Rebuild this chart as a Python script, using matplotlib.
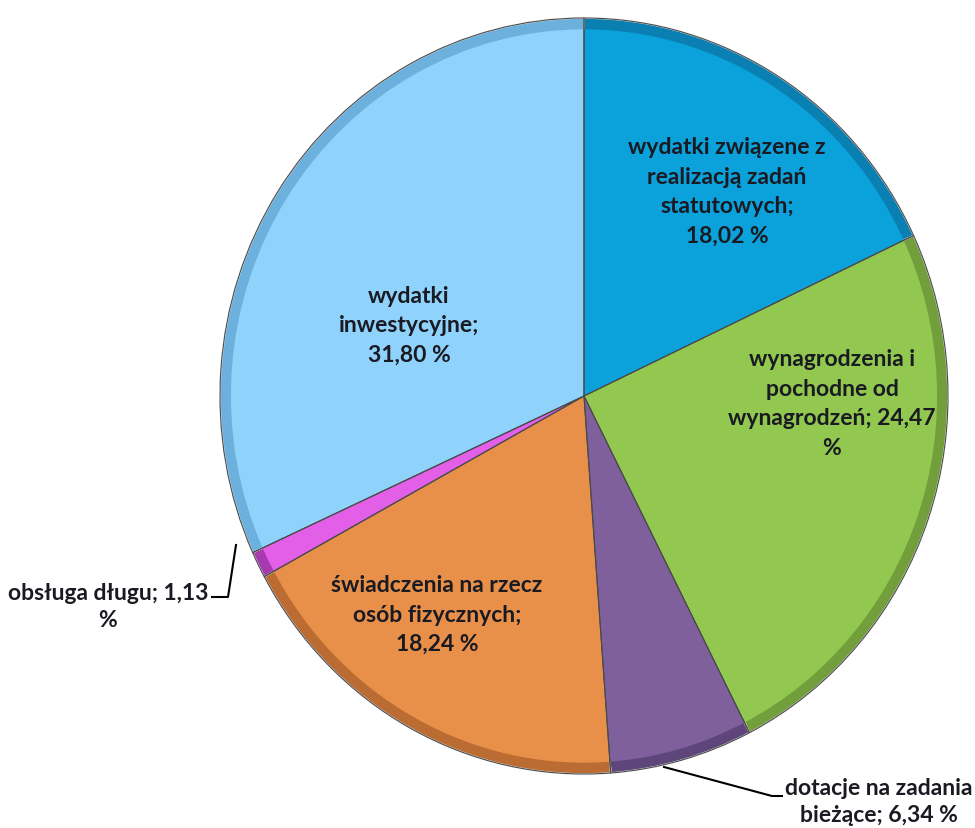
import matplotlib.pyplot as plt
import numpy as np

# slice data, clockwise from 12 o'clock
labels = [
    "wydatki związene z\nrealizacją zadań\nstatutowych;\n18,02 %",
    "wynagrodzenia i\npochodne od\nwynagrodzeń; 24,47\n%",
    "dotacje na zadania\nbieżące; 6,34 %",
    "świadczenia na rzecz\nosób fizycznych;\n18,24 %",
    "obsługa długu; 1,13\n%",
    "wydatki\ninwestycyjne;\n31,80 %",
]
values = [18.02, 24.47, 6.34, 18.24, 1.13, 31.80]
colors = ["#0ba2dc", "#92c84f", "#7f609c", "#e8904a", "#e45fe8", "#8fd2fb"]
rims = ["#0a80b2", "#729f3c", "#5f467a", "#bb6c32", "#a83ab0", "#6cb0de"]

# label anchor points in pixels (x, y from top)
label_pos = [(727, 192), (832, 404), (879, 802), (437, 615), (108, 607), (409, 326)]

W, H = 975, 829
cx, cy = 584, 397
rx, ry = 364, 378

plt.rcParams['font.family'] = ['Lato', 'DejaVu Sans']

fig = plt.figure(figsize=(W / 100, H / 100), dpi=100)
ax = fig.add_axes([0, 0, 1, 1])

# dark rim first, then the face
ax.pie(values, colors=rims, startangle=90, counterclock=False, radius=1.0,
       wedgeprops=dict(edgecolor="#f4f4f4", linewidth=1.2))
ax.pie(values, colors=colors, startangle=90, counterclock=False, radius=0.97,
       wedgeprops=dict(edgecolor="none"))
# thin separators on top
ax.pie(values, colors=["none"] * len(values), startangle=90, counterclock=False, radius=1.0,
       wedgeprops=dict(edgecolor="#4a4a4a", linewidth=0.8, fill=False))

# pie() resets limits/aspect, so map data units to pixels afterwards
ax.set_aspect('auto')
ax.set_xlim(-cx / rx, (W - cx) / rx)
ax.set_ylim(-(H - cy) / ry, cy / ry)
ax.axis('off')


def to_data(px, py):
    return (px - cx) / rx, (cy - py) / ry


for text, (px, py) in zip(labels, label_pos):
    x, y = to_data(px, py)
    ax.text(x, y, text, ha='center', va='center', fontsize=16.5, fontweight='bold',
            color="#1a1a22", linespacing=1.5 if text.count("\n") > 1 else 1.3)

# leader lines
for pts in ([(212, 598), (228, 598), (236, 546)], [(664, 768), (772, 797), (782, 797)]):
    xs, ys = zip(*[to_data(*p) for p in pts])
    ax.plot(xs, ys, color="black", linewidth=1.5)

fig.savefig("out.png", dpi=100)
